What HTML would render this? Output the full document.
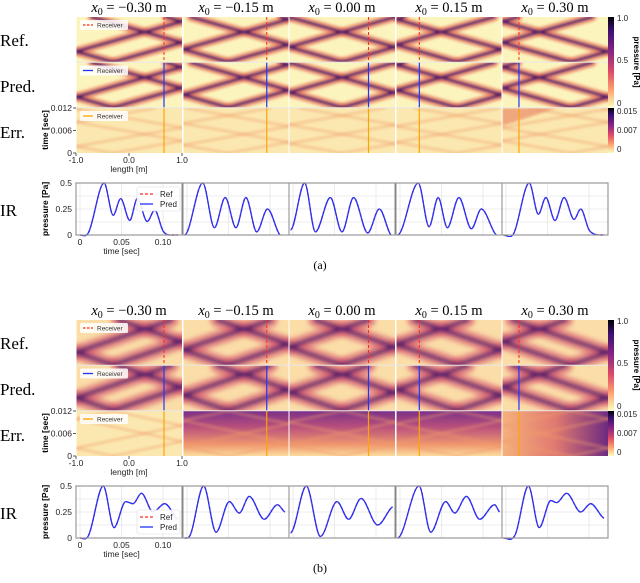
<!DOCTYPE html>
<html><head><meta charset="utf-8">
<style>
html,body{margin:0;padding:0;background:#fff;}
svg{display:block;font-family:"Liberation Sans",sans-serif;}
.serif{font-family:"Liberation Serif",serif;}
</style></head>
<body>
<svg id="fig" width="640" height="583" viewBox="0 0 640 583" xmlns="http://www.w3.org/2000/svg">
<defs>
<filter id="blur" x="-10%" y="-10%" width="120%" height="120%"><feGaussianBlur stdDeviation="1.3"/></filter>
<filter id="blur2" x="-10%" y="-10%" width="120%" height="120%"><feGaussianBlur stdDeviation="2.2"/></filter>
<linearGradient id="cbP" x1="0" y1="0" x2="0" y2="1">
<stop offset="0" stop-color="#000004"/><stop offset="0.15" stop-color="#3b0f70"/><stop offset="0.4" stop-color="#8c2981"/><stop offset="0.6" stop-color="#de4968"/><stop offset="0.8" stop-color="#fe9f6d"/><stop offset="1" stop-color="#fcfdbf"/>
</linearGradient>
<linearGradient id="errB" x1="0" y1="0" x2="0" y2="1">
<stop offset="0" stop-color="#7a3088"/><stop offset="0.35" stop-color="#b84f7c"/><stop offset="0.75" stop-color="#f0986e"/><stop offset="1" stop-color="#fbdca0"/>
</linearGradient>
<linearGradient id="errB5" x1="0" y1="0" x2="1" y2="0">
<stop offset="0" stop-color="#f5b27c"/><stop offset="0.5" stop-color="#e07a70"/><stop offset="1" stop-color="#6e2a80"/>
</linearGradient>
</defs>
<g id="root"></g>
</svg>
<script>
// ---------- data ----------
var panelTitles = ["−0.30", "−0.15", "0.00", "0.15", "0.30"];
var sourcePos = [-0.30, -0.15, 0.00, 0.15, 0.30];
var receiverPos = [0.66, 0.58, 0.50, -0.56, -0.68];
var irTickX = [0, 0.05, 0.10];
var irTickXLabels = ["0", "0.05", "0.10"];
var irTickY = [0, 0.25, 0.5];
var irTickYLabels = ["0", "0.25", "0.5"];
var errTickLabels = ["0.012", "0.006", "0"];
var lenTickLabels = ["-1.0", "0.0", "1.0"];
var cbPressureLabels = ["1.0", "0.5", "0"];
var cbErrLabels = ["0.015", "0.007", "0"];

// IR (a) per panel: times [s] and pressure [Pa]
var irA1t = [0, 0.01, 0.029, 0.040, 0.049, 0.060, 0.069, 0.081, 0.090, 0.100, 0.108, 0.118];
var irA1v = [0, 0.02, 0.50, 0.19, 0.35, 0.14, 0.35, 0.13, 0.24, 0.04, 0.0, 0.0];
var irA2t = [-0.003, 0.019, 0.033, 0.046, 0.059, 0.071, 0.084, 0.097, 0.112];
var irA2v = [0.0, 0.50, 0.07, 0.36, 0.07, 0.36, 0.03, 0.25, 0.0];
var irA3t = [-0.003, 0.014, 0.027, 0.045, 0.059, 0.073, 0.090, 0.104, 0.118];
var irA3v = [0.05, 0.50, 0.03, 0.36, 0.03, 0.36, 0.02, 0.25, 0.0];
var irA4t = [-0.003, 0.022, 0.035, 0.046, 0.057, 0.071, 0.086, 0.098, 0.116];
var irA4v = [0.0, 0.50, 0.08, 0.36, 0.07, 0.36, 0.06, 0.25, 0.0];
var irA5t = [-0.003, 0.009, 0.028, 0.039, 0.048, 0.059, 0.070, 0.082, 0.090, 0.100, 0.106, 0.118];
var irA5v = [0.0, 0.01, 0.50, 0.20, 0.36, 0.14, 0.36, 0.15, 0.25, 0.05, 0.01, 0.0];
// IR (b)
var irB1t = [0, 0.01, 0.028, 0.041, 0.055, 0.064, 0.074, 0.088, 0.102, 0.118];
var irB1v = [0, 0.02, 0.50, 0.10, 0.35, 0.33, 0.43, 0.25, 0.33, 0.18];
var irB2t = [-0.003, 0.004, 0.020, 0.035, 0.051, 0.063, 0.075, 0.093, 0.109, 0.118];
var irB2v = [0.0, 0.03, 0.50, 0.056, 0.35, 0.24, 0.40, 0.18, 0.32, 0.25];
var irB3t = [-0.003, 0.016, 0.033, 0.053, 0.067, 0.082, 0.102, 0.120];
var irB3v = [0.05, 0.50, 0.015, 0.35, 0.18, 0.38, 0.125, 0.30];
var irB4t = [-0.003, 0.023, 0.037, 0.055, 0.066, 0.080, 0.096, 0.114, 0.120];
var irB4v = [0.0, 0.50, 0.056, 0.35, 0.24, 0.40, 0.18, 0.32, 0.25];
var irB5t = [-0.003, 0.011, 0.027, 0.040, 0.054, 0.061, 0.073, 0.090, 0.102, 0.118];
var irB5v = [0.0, 0.03, 0.50, 0.10, 0.36, 0.34, 0.43, 0.25, 0.33, 0.19];

var irTimes = [[irA1t, irA2t, irA3t, irA4t, irA5t], [irB1t, irB2t, irB3t, irB4t, irB5t]];
var irVals = [[irA1v, irA2v, irA3v, irA4v, irA5v], [irB1v, irB2v, irB3v, irB4v, irB5v]];

// ---------- layout ----------
var NS = "http://www.w3.org/2000/svg";
var root = document.getElementById("root");
var lefts = [76, 183, 289, 396, 502];
var PW = 106;
function mk(tag, attrs, parent, txt) {
  var e = document.createElementNS(NS, tag);
  for (var k in attrs) e.setAttribute(k, attrs[k]);
  if (txt !== undefined) e.textContent = txt;
  (parent || root).appendChild(e);
  return e;
}
var clipId = 0;
function clip(x, y, w, h) {
  var id = "c" + (clipId++);
  var cp = mk("clipPath", {id: id}, document.querySelector("defs"));
  mk("rect", {x: x, y: y, width: w, height: h}, cp);
  return "url(#" + id + ")";
}
function xAt(left, xm) { return left + (xm + 1) / 2 * PW; }

function waveLines(g, left, top, H, s, k, wOuter, wInner, opO, opI, colO, colI) {
  var imgs = [];
  for (var n = -3; n <= 3; n++) { imgs.push(s + 4 * n); imgs.push(-2 - s + 4 * n); }
  var layers = [[colO, wOuter, opO], [colI, wInner, opI]];
  layers.forEach(function (L) {
    imgs.forEach(function (im) {
      [-1, 1].forEach(function (dir) {
        var x1 = im, x2 = im + dir * k;
        var p = mk("line", {
          x1: xAt(left, x1), y1: top + H, x2: xAt(left, x2), y2: top,
          stroke: L[0], "stroke-width": L[1], "stroke-opacity": L[2], "stroke-linecap": "round"
        }, g);
        
        
      });
    });
  });
}

function monotonePath(xs, ys) {
  var n = xs.length, d = [], m = [];
  for (var i = 0; i < n - 1; i++) d.push((ys[i + 1] - ys[i]) / (xs[i + 1] - xs[i]));
  for (var i = 0; i < n; i++) {
    if (i === 0) m.push(d[0]); else if (i === n - 1) m.push(d[n - 2]);
    else m.push(d[i - 1] * d[i] <= 0 ? 0 : (d[i - 1] + d[i]) / 2);
  }
  m[0] = 0; m[n - 1] = d[n - 2] * 0.5;
  var s = "M" + xs[0].toFixed(2) + "," + ys[0].toFixed(2);
  for (var i = 0; i < n - 1; i++) {
    var h = (xs[i + 1] - xs[i]) / 3;
    s += " C" + (xs[i] + h).toFixed(2) + "," + (ys[i] + m[i] * h).toFixed(2) + " " +
      (xs[i + 1] - h).toFixed(2) + "," + (ys[i + 1] - m[i + 1] * h).toFixed(2) + " " +
      xs[i + 1].toFixed(2) + "," + ys[i + 1].toFixed(2);
  }
  return s;
}

function legendBox(x, y, color, dashed, parent) {
  var g = mk("g", {}, parent);
  
  
  mk("rect", {x: x, y: y, width: 48, height: 10, fill: "#fff", "fill-opacity": 0.85, rx: 1.5}, g);
  mk("line", {x1: x + 3, y1: y + 5, x2: x + 13, y2: y + 5, stroke: color, "stroke-width": 1.3, "stroke-dasharray": dashed ? "2.5,1.5" : "none"}, g);
  mk("text", {x: x + 17, y: y + 7.5, "font-size": 6.5, fill: "#333"}, g, "Receiver");
}

function drawFigure(oy, fi) {
  var fig = mk("g", {});
  
  
  var top = 17 + oy, H = 45;
  var rows = [top, top + 45.5, top + 91];
  for (var p = 0; p < 5; p++) {
    var t = mk("text", {x: lefts[p] + PW / 2, y: oy + 12, "text-anchor": "middle", "font-size": 14.5, "class": "serif"}, fig);
    
    
    t.innerHTML = '<tspan font-style="italic">x</tspan><tspan font-size="10" dy="3">0</tspan><tspan dy="-3"> = ' + panelTitles[p] + ' m</tspan>';
  }
  var rl = [["Ref.", top + 29], ["Pred.", top + 75], ["Err.", top + 121], ["IR", oy + 216]];
  rl.forEach(function (r) {
    var e = mk("text", {x: 0, y: r[1], "font-size": 17, "class": "serif"}, fig, r[0]);
    
    
  });
  var k = fi === 0 ? 3.0 : 2.5;
  for (var p = 0; p < 5; p++) {
    var L = lefts[p];
    for (var r = 0; r < 2; r++) {
      var g = mk("g", {"clip-path": clip(L, rows[r], PW, H)}, fig);
      
      
      mk("rect", {x: L, y: rows[r], width: PW, height: H, fill: "#fcf4bd"}, g);
      if (fi === 1) mk("rect", {x: L, y: rows[r], width: PW, height: H, fill: "#f6a06e", "fill-opacity": 0.28}, g);
      var gg = mk("g", {filter: fi === 0 ? "url(#blur)" : "url(#blur2)"}, g);
      if (fi === 0) waveLines(gg, L, rows[r], H, sourcePos[p], k, 9, 3, 0.6, 0.85, "#e8674f", "#3b1268");
      else waveLines(gg, L, rows[r], H, sourcePos[p], k, 15, 4.5, 0.55, 0.8, "#d9506a", "#3b1268");
    }
    var ge = mk("g", {"clip-path": clip(L, rows[2], PW, H)}, fig);
    
    
    var errFill = "#fbe8b0";
    if (fi === 1 && p > 0) errFill = p === 4 ? "url(#errB5)" : "url(#errB)";
    mk("rect", {x: L, y: rows[2], width: PW, height: H, fill: errFill}, ge);
    var ge2 = mk("g", {filter: "url(#blur)"}, ge);
    waveLines(ge2, L, rows[2], H, sourcePos[p], k * 1.6, 3, 1, 0.35, 0.2, "#f3a36e", "#e07a5f");
    if (fi === 0 && p === 4) mk("polygon", {points: L + "," + rows[2] + " " + (L + 55) + "," + rows[2] + " " + L + "," + (rows[2] + 18), fill: "#e98a68", "fill-opacity": 0.7, filter: "url(#blur)"}, ge);
    var rx = xAt(L, receiverPos[p]);
    var r1 = mk("line", {x1: rx, y1: rows[0], x2: rx, y2: rows[0] + H, stroke: "#ff2a1a", "stroke-width": 1, "stroke-dasharray": "3,2"}, fig);
    
    
    var r2 = mk("line", {x1: rx, y1: rows[1], x2: rx, y2: rows[1] + H, stroke: "#2233ff", "stroke-width": 1.2}, fig);
    
    
    var r3 = mk("line", {x1: rx, y1: rows[2], x2: rx, y2: rows[2] + H, stroke: "#ffa500", "stroke-width": 1.2}, fig);
    
    
    mk("line", {x1: L, y1: top, x2: L, y2: top + 136, stroke: "#fff", "stroke-width": 1}, fig);
  }
  mk("line", {x1: 76, y1: rows[1] - 0.3, x2: 608, y2: rows[1] - 0.3, stroke: "#e8e8e8", "stroke-width": 1}, fig);
  mk("line", {x1: 76, y1: rows[2] - 0.3, x2: 608, y2: rows[2] - 0.3, stroke: "#e8e8e8", "stroke-width": 1}, fig);
  legendBox(80, rows[0] + 3, "#ff2a1a", true, fig);
  legendBox(80, rows[1] + 3, "#2233ff", false, fig);
  legendBox(80, rows[2] + 3, "#ffa500", false, fig);
  var eb = rows[2] + H;
  [rows[2], rows[2] + H / 2, eb].forEach(function (yy, i) {
    mk("line", {x1: 73, y1: yy, x2: 76, y2: yy, stroke: "#333", "stroke-width": 0.8}, fig);
    var tt = mk("text", {x: 72, y: yy + 3, "font-size": 8.5, "text-anchor": "end", fill: "#222"}, fig, errTickLabels[i]);
    
    
  });
  var ylab = mk("text", {x: 0, y: 0, "font-size": 8.5, "font-weight": "bold", "text-anchor": "middle", transform: "translate(48," + (rows[2] + 22) + ") rotate(-90)"}, fig, "time [sec]");
  
  
  [76, 129, 182].forEach(function (xx, i) {
    mk("line", {x1: xx, y1: eb, x2: xx, y2: eb + 3, stroke: "#333", "stroke-width": 0.8}, fig);
    var tt = mk("text", {x: xx, y: eb + 10, "font-size": 8.5, "text-anchor": "middle", fill: "#222"}, fig, lenTickLabels[i]);
    
    
  });
  var xl = mk("text", {x: 129, y: eb + 19, "font-size": 8.5, "text-anchor": "middle", fill: "#222"}, fig, "length [m]");
  
  
  var cb = mk("rect", {x: 608, y: rows[0], width: 6, height: 90.5, fill: "url(#cbP)"}, fig);
  
  
  var cb2 = mk("rect", {x: 608, y: rows[2], width: 6, height: H, fill: "url(#cbP)"}, fig);
  
  
  [rows[0] + 4, rows[0] + 46, rows[0] + 89].forEach(function (yy, i) {
    var tt = mk("text", {x: 617, y: yy, "font-size": 8, fill: "#222"}, fig, cbPressureLabels[i]);
    
    
  });
  [rows[2] + 6, rows[2] + 25, rows[2] + 44].forEach(function (yy, i) {
    var tt = mk("text", {x: 617, y: yy, "font-size": 8, fill: "#222"}, fig, cbErrLabels[i]);
    
    
  });
  var cbl = mk("text", {x: 0, y: 0, "font-size": 8, "font-weight": "bold", "text-anchor": "middle", transform: "translate(634," + (rows[0] + 45) + ") rotate(90)"}, fig, "pressure [Pa]");
  
  

  var irTop = oy + 183, irH = 52, irBot = irTop + irH;
  function ty(v) { return irBot - v / 0.5 * irH; }
  function tx(L, t) { return L + 4 + t * 830; }
  for (var p = 0; p < 5; p++) {
    var L = lefts[p];
    var g = mk("g", {}, fig);
    
    
    mk("rect", {x: L, y: irTop, width: PW, height: irH, fill: "#fff"}, g);
    irTickX.forEach(function (t) { mk("line", {x1: tx(L, t), y1: irTop, x2: tx(L, t), y2: irBot, stroke: "#e6e6e6", "stroke-width": 0.8}, g); });
    [0.125, 0.25, 0.375].forEach(function (v) { mk("line", {x1: L, y1: ty(v), x2: L + PW, y2: ty(v), stroke: "#e6e6e6", "stroke-width": 0.8}, g); });
    var xs = irTimes[fi][p].map(function (t) { return tx(L, t); });
    var ys = irVals[fi][p].map(ty);
    var gc = mk("g", {"clip-path": clip(L, irTop - 2, PW, irH + 4)}, g);
    var d = monotonePath(xs, ys);
    var ref = mk("path", {d: d, fill: "none", stroke: "#ff2a1a", "stroke-width": 1.4, "stroke-dasharray": "3,2"}, gc);
    
    
    var pr = mk("path", {d: d, fill: "none", stroke: "#2233ff", "stroke-width": 1.3}, gc);
    
    
    mk("rect", {x: L, y: irTop, width: PW, height: irH, fill: "none", stroke: "#888", "stroke-width": 1}, g);
  }
  mk("rect", {x: 76, y: irTop, width: 532, height: irH, fill: "none", stroke: "#999", "stroke-width": 1.2}, fig);
  irTickY.forEach(function (v, i) {
    var tt = mk("text", {x: 72, y: ty(v) + 3, "font-size": 8.5, "text-anchor": "end", fill: "#222"}, fig, irTickYLabels[i]);
    
    
  });
  irTickX.forEach(function (t, i) {
    var tt = mk("text", {x: tx(76, t), y: irBot + 10, "font-size": 8.5, "text-anchor": "middle", fill: "#222"}, fig, irTickXLabels[i]);
    
    
  });
  var it = mk("text", {x: tx(76, 0.05), y: irBot + 19, "font-size": 8.5, "text-anchor": "middle", fill: "#222"}, fig, "time [sec]");
  
  
  var ip = mk("text", {x: 0, y: 0, "font-size": 8.5, "font-weight": "bold", "text-anchor": "middle", transform: "translate(48," + (irTop + 26) + ") rotate(-90)"}, fig, "pressure [Pa]");
  
  
  var ly = fi === 0 ? irTop + 4 : irTop + 24;
  var lg = mk("g", {}, fig);
  
  
  mk("rect", {x: 137, y: ly, width: 43, height: 24, fill: "#fff", "fill-opacity": 0.9, stroke: "#ddd", "stroke-width": 0.6, rx: 2}, lg);
  mk("line", {x1: 140, y1: ly + 7, x2: 153, y2: ly + 7, stroke: "#ff2a1a", "stroke-width": 1.3, "stroke-dasharray": "3,2"}, lg);
  mk("text", {x: 160, y: ly + 10, "font-size": 8, fill: "#222"}, lg, "Ref");
  mk("line", {x1: 140, y1: ly + 17, x2: 153, y2: ly + 17, stroke: "#2233ff", "stroke-width": 1.3}, lg);
  mk("text", {x: 160, y: ly + 20, "font-size": 8, fill: "#222"}, lg, "Pred");
  var cap = mk("text", {x: 320, y: oy + 269, "font-size": 12, "text-anchor": "middle", "class": "serif"}, fig, fi === 0 ? "(a)" : "(b)");
  
  
}
drawFigure(0, 0);
drawFigure(303, 1);
</script>
</body></html>
